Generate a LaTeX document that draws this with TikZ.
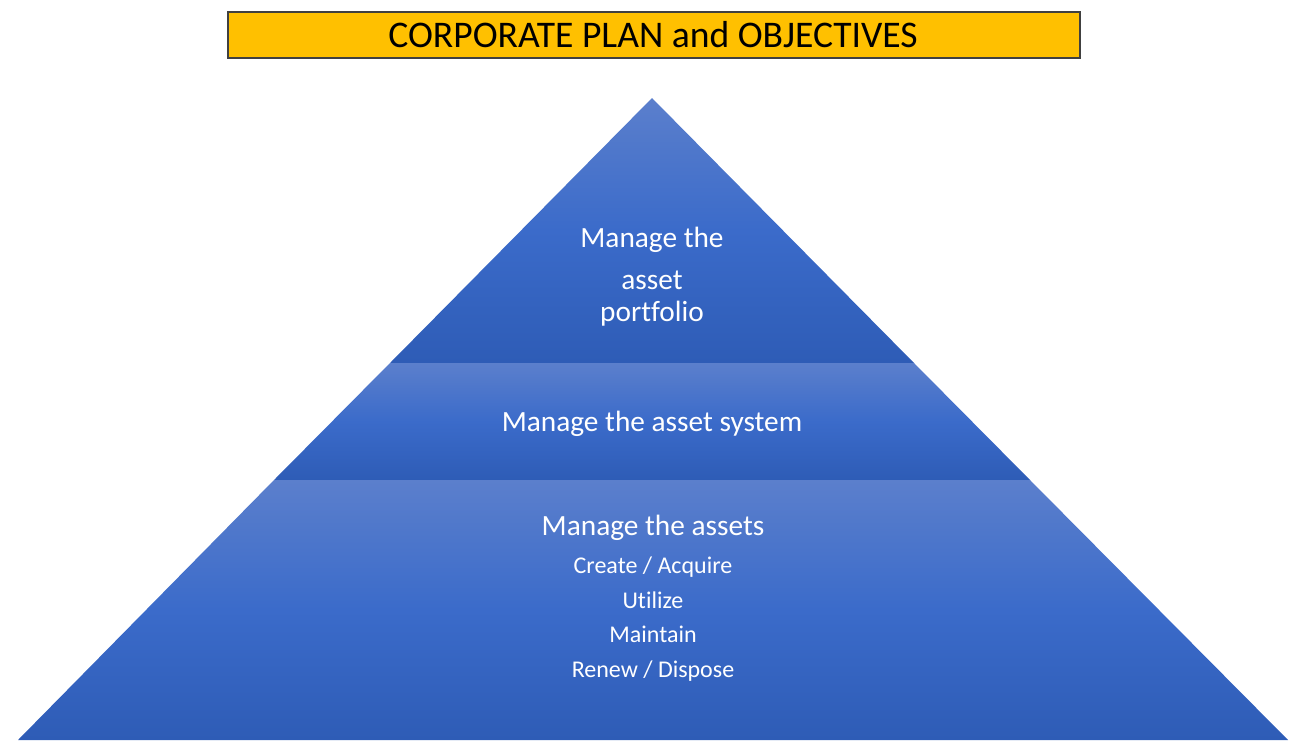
\documentclass[tikz,border=0pt]{standalone}
\usepackage{fontspec}
\setmainfont{Carlito}[Ligatures=NoCommon]
\definecolor{bandtop}{HTML}{5B7FCC}
\definecolor{bandmid}{HTML}{3B6BCA}
\definecolor{bandbot}{HTML}{2E5CB6}
\definecolor{titlefill}{HTML}{FFC000}
\definecolor{titleline}{HTML}{404040}
\begin{document}
\begin{tikzpicture}[x=0.75pt,y=-0.75pt,
  band/.style={top color=bandtop,bottom color=bandbot,middle color=bandmid,draw=none},
  lbl/.style={text=white,anchor=base,inner sep=0pt},
  big/.style={lbl,font=\fontsize{22}{25}\selectfont},
  small/.style={lbl,font=\fontsize{18}{21}\selectfont}]
\useasboundingbox (0,0) rectangle (1298,740);
% title banner
\node[draw=titleline,line width=1.2pt,fill=titlefill,minimum width=852*0.75pt,
      minimum height=46*0.75pt,inner sep=0pt,anchor=north west] (title) at (227,11) {};
\node[anchor=base,inner sep=0pt,font=\fontsize{28.2}{32}\selectfont] (titletext) at (653,47)
  {CORPORATE PLAN and OBJECTIVES};
% pyramid bands
\coordinate (apex) at (652,98);
\shade[band] (apex) -- (914,363) -- (390,363) -- cycle;
\shade[band] (390,363) -- (914,363) -- (1030,480) -- (274,480) -- cycle;
\shade[band] (274,480) -- (1030,480) -- (1288,740) -- (18,740) -- cycle;
% top band text
\node[big] (t1) at (652,247.5) {Manage the};
\node[big] (t2) at (652,289) {asset};
\node[big] (t3) at (652,321) {portfolio};
% middle band text
\node[big] (m1) at (652,431.5) {Manage the asset system};
% bottom band text
\node[big] (b1) at (653,535) {Manage the assets};
\node[small] (b2) at (653,573) {Create / Acquire};
\node[small] (b3) at (653,608) {Utilize};
\node[small] (b4) at (653,642.5) {Maintain};
\node[small] (b5) at (653,677) {Renew / Dispose};
\end{tikzpicture}
\end{document}
